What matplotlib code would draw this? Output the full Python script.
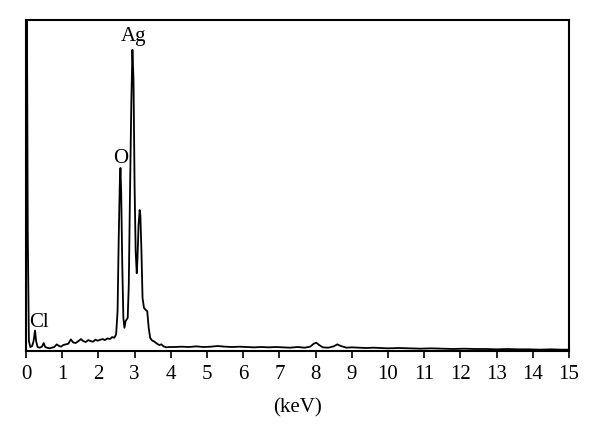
import matplotlib.pyplot as plt

plt.rcParams["font.family"] = ["Liberation Serif", "DejaVu Serif"]

# EDS spectrum: energy (keV) and relative counts
energy = [0.00, 0.02, 0.05, 0.08, 0.12, 0.17, 0.21, 0.25, 0.28, 0.32, 0.38,
          0.44, 0.49, 0.53, 0.58, 0.65, 0.72, 0.78, 0.85, 0.9, 0.97, 1.03,
          1.1, 1.17, 1.24, 1.3, 1.37, 1.45, 1.52, 1.58, 1.65, 1.72, 1.78,
          1.85, 1.92, 1.98, 2.05, 2.12, 2.18, 2.25, 2.32, 2.38, 2.44, 2.49,
          2.53, 2.56, 2.59, 2.61, 2.63, 2.66, 2.69, 2.72, 2.75, 2.78, 2.81,
          2.84, 2.87, 2.91, 2.94, 2.97, 3.0, 3.03, 3.06, 3.08, 3.11, 3.14,
          3.16, 3.19, 3.22, 3.26, 3.31, 3.35, 3.39, 3.43, 3.48, 3.55, 3.62,
          3.68, 3.74, 3.8, 3.88, 3.95, 4.1, 4.3, 4.5, 4.7, 4.9, 5.1, 5.3,
          5.5, 5.7, 5.9, 6.1, 6.3, 6.5, 6.7, 6.9, 7.1, 7.3, 7.5, 7.7, 7.85,
          7.95, 8.02, 8.1, 8.2, 8.35, 8.5, 8.6, 8.7, 8.85, 9.0, 9.2, 9.4,
          9.6, 9.8, 10.0, 10.3, 10.6, 10.9, 11.2, 11.5, 11.8, 12.1, 12.4,
          12.7, 13.0, 13.3, 13.6, 13.9, 14.2, 14.5, 14.8, 15.0]
counts = [0.0, 1.2, 0.35, 0.03, 0.012, 0.015, 0.03, 0.062, 0.03, 0.012,
          0.01, 0.013, 0.024, 0.012, 0.01, 0.008, 0.01, 0.012, 0.02, 0.016,
          0.013, 0.018, 0.02, 0.022, 0.035, 0.026, 0.024, 0.03, 0.036,
          0.03, 0.027, 0.033, 0.03, 0.028, 0.034, 0.031, 0.034, 0.036,
          0.033, 0.038, 0.036, 0.042, 0.04, 0.05, 0.12, 0.33, 0.5, 0.553,
          0.48, 0.26, 0.1, 0.07, 0.09, 0.095, 0.1, 0.2, 0.45, 0.75, 0.91,
          0.82, 0.5, 0.3, 0.235, 0.28, 0.38, 0.426, 0.41, 0.3, 0.16, 0.13,
          0.124, 0.12, 0.07, 0.04, 0.032, 0.028, 0.022, 0.018, 0.02, 0.014,
          0.011, 0.012, 0.012, 0.013, 0.012, 0.014, 0.012, 0.013, 0.015,
          0.013, 0.012, 0.013, 0.012, 0.011, 0.012, 0.011, 0.012, 0.011,
          0.01, 0.012, 0.01, 0.013, 0.022, 0.025, 0.018, 0.011, 0.01, 0.014,
          0.02, 0.015, 0.01, 0.011, 0.01, 0.009, 0.01, 0.009, 0.008, 0.009,
          0.008, 0.007, 0.008, 0.007, 0.006, 0.007, 0.006, 0.006, 0.005,
          0.006, 0.005, 0.005, 0.004, 0.005, 0.004, 0.004]

peak_labels = ["Ag", "O", "Cl"]
label_x = [2.97, 2.61, 0.35]
label_y = [0.95, 0.583, 0.086]

fig = plt.figure(figsize=(6, 4.4), dpi=100)
ax = fig.add_axes([0.0433, 0.2023, 0.905, 0.7522])

ax.plot(energy, counts, color="black", linewidth=1.3)

for lab, lx, ly in zip(peak_labels, label_x, label_y):
    ax.text(lx, ly, lab, fontsize=15, ha="center", va="center")

ax.set_xlim(0, 15)
ax.set_ylim(0, 1)
ax.set_xticks(range(16))
ax.set_yticks([])
ax.tick_params(axis="x", direction="out", length=5, width=1.2,
               labelsize=15, pad=5)
for sp in ax.spines.values():
    sp.set_linewidth(1.5)
ax.set_xlabel("(keV)", fontsize=15, labelpad=10)

fig.savefig("out.png", dpi=100)
